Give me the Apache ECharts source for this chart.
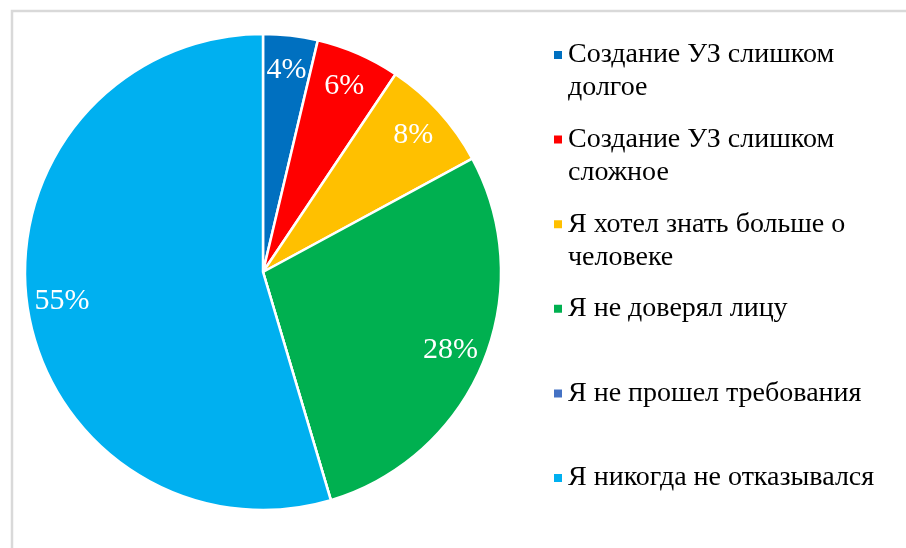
<!DOCTYPE html>
<html>
<head>
    <meta charset="utf-8">
    <style>
        html, body { margin: 0; padding: 0; background: #fff; }
        #main { width: 906px; height: 548px; }
    </style>
    <script src="https://cdn.jsdelivr.net/npm/echarts@6/dist/echarts.min.js"></script>
</head>
<body>
    <div id="main"></div>
    <script type="text/javascript">
        var categories = [
            'Создание УЗ слишком\nдолгое',
            'Создание УЗ слишком\nсложное',
            'Я хотел знать больше о\nчеловеке',
            'Я не доверял лицу',
            'Я не прошел требования',
            'Я никогда не отказывался'
        ];
        var values = [3.7, 5.7, 7.7, 28.3, 0, 54.6];
        var colors = ['#0070C0', '#FF0000', '#FFC000', '#00B050', '#4472C4', '#00B0F0'];

        var FONT = '"Liberation Serif", "Times New Roman", serif';
        var myChart = echarts.init(document.getElementById('main'));

        var pieData = [], labelData = [], legends = [];
        for (var i = 0; i < categories.length; i++) {
            pieData.push({ name: categories[i], value: values[i], itemStyle: { color: colors[i] } });
            labelData.push({ name: categories[i], value: values[i] });

            var twoLines = categories[i].indexOf('\n') >= 0;
            var iconY = 55 + i * 84.6;
            legends.push({
                orient: 'vertical',
                left: 552,
                top: twoLines ? iconY - 49.5 : iconY - 16.5,
                padding: 0,
                icon: 'rect',
                itemWidth: 10,
                itemHeight: 10,
                selectedMode: false,
                // blank first line keeps the marker level with the first text line
                formatter: function (name) {
                    return name.indexOf('\n') >= 0 ? ' \n' + name : name;
                },
                textStyle: {
                    fontFamily: FONT,
                    fontSize: 28,
                    color: '#000',
                    lineHeight: 33
                },
                data: [{ name: categories[i], itemStyle: { color: colors[i] } }]
            });
        }

        var option = {
            backgroundColor: '#fff',
            animation: false,
            legend: legends,
            graphic: [{
                type: 'rect',
                shape: { x: 12, y: 11, width: 1000, height: 1000 },
                style: { fill: 'none', stroke: '#d9d9d9', lineWidth: 2.5 },
                silent: true
            }],
            series: [
                {
                    type: 'pie',
                    center: [263, 272],
                    radius: [0, 238],
                    startAngle: 90,
                    clockwise: true,
                    silent: true,
                    label: { show: false },
                    labelLine: { show: false },
                    itemStyle: { borderColor: '#fff', borderWidth: 2.5 },
                    data: pieData
                },
                {
                    // transparent ring only carries the percent labels
                    type: 'pie',
                    center: [263, 272],
                    radius: [162, 238],
                    startAngle: 90,
                    clockwise: true,
                    silent: true,
                    legendHoverLink: false,
                    itemStyle: { color: 'rgba(0,0,0,0)' },
                    label: {
                        show: true,
                        position: 'inside',
                        color: '#fff',
                        fontFamily: FONT,
                        fontSize: 30,
                        formatter: function (p) {
                            return p.value ? Math.round(p.percent) + '%' : '';
                        }
                    },
                    labelLine: { show: false },
                    data: labelData
                }
            ]
        };

        myChart.setOption(option);
    </script>
</body>
</html>
